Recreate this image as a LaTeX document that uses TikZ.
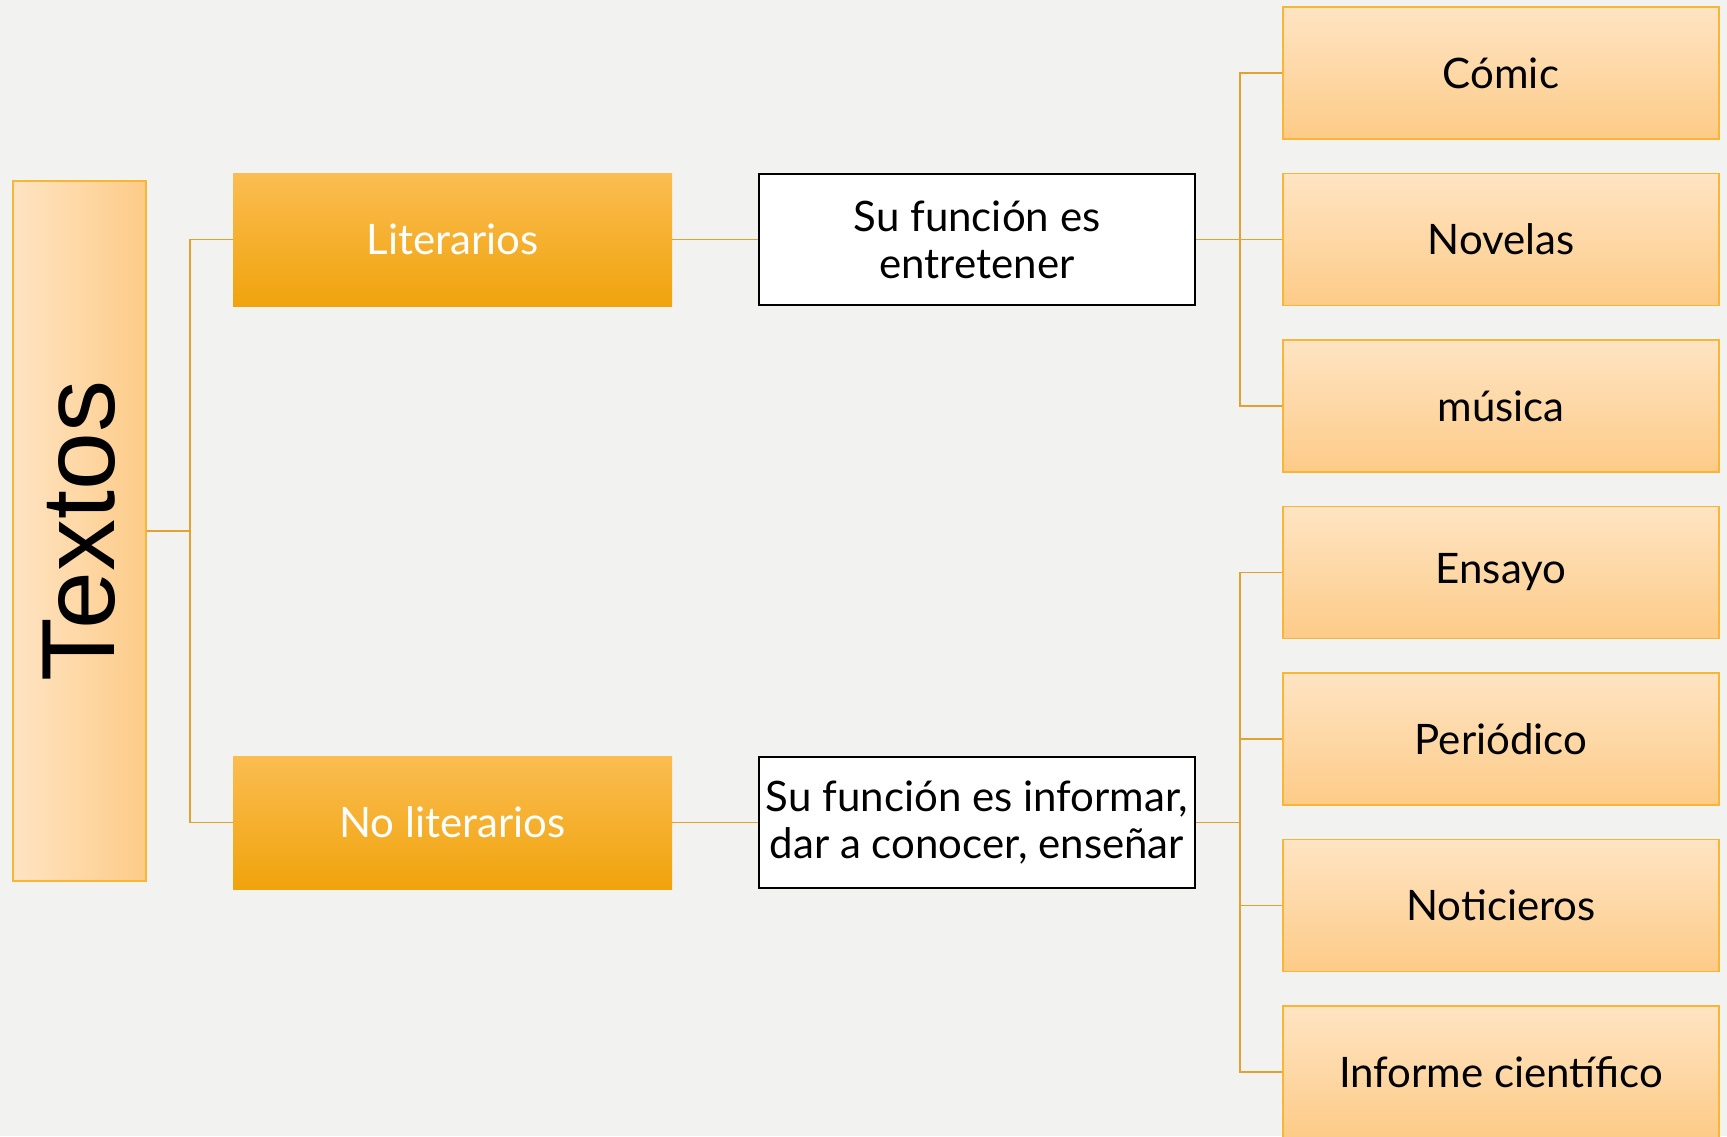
\documentclass[tikz,border=0pt]{standalone}
\usepackage{fontspec}
\setmainfont{Lato}
\newfontfamily\arialf{Liberation Sans}
\definecolor{bg}{HTML}{F2F2F0}
\definecolor{ltop}{HTML}{FEE4C3}
\definecolor{lbot}{HTML}{FDCB88}
\definecolor{bord}{HTML}{F8B634}
\definecolor{otop}{HTML}{FBBD52}
\definecolor{omid}{HTML}{FFBA1E}
\definecolor{obot}{HTML}{F0A30C}
\definecolor{conn}{HTML}{E2A232}
\tikzset{
  txtfont/.style={font=\fontsize{21}{23.5}\selectfont},
  orangebox/.style={rectangle, minimum width=219.5pt, minimum height=66.5pt, inner sep=0pt,
    top color=otop, middle color=omid, bottom color=obot, text=white, txtfont},
  whitebox/.style={rectangle, minimum width=218pt, minimum height=65.5pt, inner sep=0pt,
    fill=white, draw=black, line width=1.1pt, align=center, txtfont},
  lightbox/.style={rectangle, minimum width=218pt, minimum height=66pt, inner sep=0pt,
    top color=ltop, bottom color=lbot, draw=bord, line width=0.8pt, txtfont},
  connector/.style={draw=conn, line width=0.8pt},
}
\begin{document}
\begin{tikzpicture}[x=0.5pt,y=-0.5pt]
\useasboundingbox[fill=bg] (0,0) rectangle (1727,1136);
\node[rectangle, minimum width=66.5pt, minimum height=350pt, inner sep=0pt,
  left color=ltop, right color=lbot, draw=bord, line width=0.8pt] (T) at (79.5,531) {};
\node[rotate=90, font=\arialf\fontsize{52}{52}\selectfont] (Tt) at (79.5,531) {Textos};
\node[orangebox] (L) at (452.5,239.5) {Literarios};
\node[orangebox] (N) at (452.5,822.5) {No literarios};
\node[whitebox] (F1) at (977,239.5) {Su función es\\entretener};
\node[whitebox] (F2) at (977,822.5) {Su función es informar,\\dar a conocer, enseñar};
\node[lightbox] (R1) at (1501,73) {Cómic};
\node[lightbox] (R2) at (1501,239.5) {Novelas};
\node[lightbox] (R3) at (1501,406) {música};
\node[lightbox] (R4) at (1501,572.5) {Ensayo};
\node[lightbox] (R5) at (1501,739) {Periódico};
\node[lightbox] (R6) at (1501,905.5) {Noticieros};
\node[lightbox] (R7) at (1501,1072) {Informe científico};
\coordinate (e1) at (190,0);
\coordinate (e2) at (1240,0);
\draw[connector] (T.east) -- (T.east -| e1) |- (L.west);
\draw[connector] (T.east) -- (T.east -| e1) |- (N.west);
\draw[connector] (L.east) -- (F1.west);
\draw[connector] (N.east) -- (F2.west);
\foreach \r in {R1,R2,R3}
  \draw[connector] (F1.east) -- (F1.east -| e2) |- (\r.west);
\foreach \r in {R4,R5,R6,R7}
  \draw[connector] (F2.east) -- (F2.east -| e2) |- (\r.west);
\end{tikzpicture}
\end{document}
